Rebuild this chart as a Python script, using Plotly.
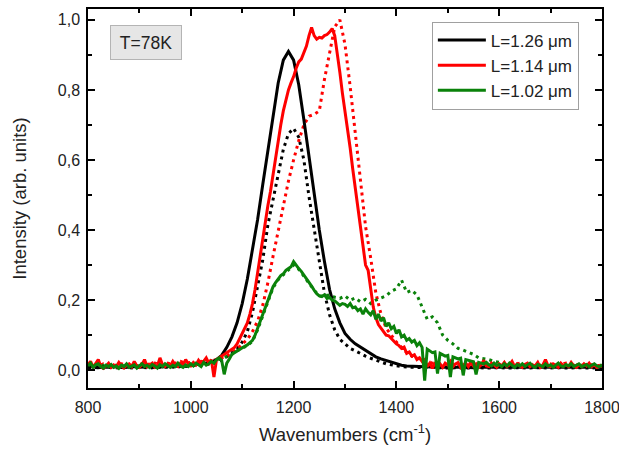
import plotly.graph_objects as go

# Spectral grids (cm^-1)
wn_fine = list(range(800, 1805, 5))     # 5 cm^-1 step
wn_coarse = list(range(800, 1810, 10))  # 10 cm^-1 step

# L = 1.26 um (black)
black_solid = [
    0.008, 0.010, 0.007, 0.009, 0.008, 0.010, 0.008, 0.007, 0.009, 0.010,
    0.008, 0.009, 0.010, 0.008, 0.009, 0.010, 0.011, 0.010, 0.012, 0.011,
    0.013, 0.014, 0.016, 0.018, 0.022, 0.030, 0.042, 0.065, 0.095, 0.135,
    0.190, 0.260, 0.340, 0.430, 0.530, 0.630, 0.730, 0.820, 0.885, 0.910,
    0.885, 0.815, 0.715, 0.605, 0.495, 0.400, 0.310, 0.230, 0.175, 0.135,
    0.105, 0.088, 0.075, 0.066, 0.056, 0.046, 0.038, 0.032, 0.027, 0.022,
    0.018, 0.014, 0.012, 0.011, 0.010, 0.009, 0.009, 0.008, 0.008, 0.009,
    0.008, 0.007, 0.009, 0.008, 0.008, 0.007, 0.009, 0.008, 0.007, 0.008,
    0.009, 0.008, 0.007, 0.008, 0.009, 0.008, 0.007, 0.008, 0.009, 0.008,
    0.007, 0.008, 0.009, 0.008, 0.007, 0.008, 0.009, 0.008, 0.007, 0.008, 0.008,
]
black_dotted = [
    0.006, 0.008, 0.007, 0.006, 0.008, 0.007, 0.006, 0.008, 0.007, 0.006,
    0.008, 0.007, 0.006, 0.008, 0.007, 0.008, 0.009, 0.008, 0.010, 0.011,
    0.012, 0.013, 0.014, 0.016, 0.018, 0.020, 0.028, 0.038, 0.050, 0.060,
    0.080, 0.110, 0.165, 0.245, 0.315, 0.415, 0.490, 0.565, 0.630, 0.675,
    0.690, 0.665, 0.600, 0.495, 0.400, 0.305, 0.220, 0.158, 0.115, 0.088,
    0.075, 0.062, 0.055, 0.047, 0.040, 0.034, 0.028, 0.022, 0.018, 0.015,
    0.012, 0.010, 0.009, 0.008, 0.008, 0.007, 0.008, 0.007, 0.006, 0.007,
    0.006, 0.007, 0.006, 0.007, 0.006, 0.007, 0.006, 0.007, 0.006, 0.007,
    0.006, 0.007, 0.006, 0.007, 0.006, 0.007, 0.006, 0.007, 0.006, 0.007,
    0.006, 0.007, 0.006, 0.007, 0.006, 0.007, 0.006, 0.007, 0.006, 0.007, 0.006,
]

# L = 1.14 um (red)
red_solid = [
    0.015, 0.025, 0.008, 0.018, 0.030, 0.010, 0.005, 0.012, 0.020, 0.008,
    0.015, 0.010, 0.022, 0.012, 0.006, 0.014, 0.018, 0.010, 0.025, 0.012,
    0.008, 0.016, 0.030, 0.010, 0.014, 0.020, 0.008, 0.012, 0.035, 0.015,
    0.010, 0.018, 0.012, 0.025, 0.014, 0.010, 0.020, 0.015, 0.030, 0.018,
    0.012, 0.022, 0.015, 0.028, 0.018, 0.025, 0.035, 0.020, 0.030,
    -0.020, 0.030, 0.035, 0.038, 0.045, 0.050, 0.055, 0.060, 0.065, 0.075, 0.090,
    0.105, 0.120, 0.135, 0.160, 0.190, 0.230, 0.280, 0.330, 0.380, 0.430,
    0.470, 0.510, 0.560, 0.610, 0.660, 0.700, 0.740, 0.775, 0.800, 0.820,
    0.838, 0.862, 0.880, 0.888, 0.905, 0.925, 0.955, 0.978, 0.955, 0.945,
    0.950, 0.948, 0.955, 0.958, 0.965, 0.975, 0.955, 0.905, 0.850, 0.790,
    0.740, 0.690, 0.635, 0.575, 0.515, 0.465, 0.410, 0.355, 0.300, 0.285,
    0.230, 0.180, 0.150, 0.130, 0.120, 0.110, 0.100, 0.098, 0.090, 0.085,
    0.075, 0.070, 0.062, 0.066, 0.048, 0.052, 0.040, 0.044, 0.030, 0.035,
    0.025, 0.030, 0.010, 0.020, 0.005, 0.022, 0.012, 0.018, 0.008, 0.020,
    0.015, 0.025, 0.010, 0.018, 0.022, 0.008, 0.015, 0.020, 0.010, 0.025,
    0.012, 0.018, 0.008, 0.015, 0.028, 0.012, 0.010, 0.020, 0.015, 0.008,
    0.018, 0.012, 0.022, 0.010, 0.015, 0.025, 0.010, 0.018, 0.012, 0.008,
    0.016, 0.020, 0.010, 0.015, 0.012, 0.022, 0.008, 0.015, 0.030, 0.012,
    0.010, 0.018, 0.014, 0.008, 0.020, 0.012, 0.015, 0.010, 0.022, 0.012,
    0.008, 0.015, 0.010, 0.018, 0.012, 0.020, 0.010, 0.015, 0.008, 0.012, 0.010,
]
red_dotted = [
    0.015, 0.020, 0.012, 0.018, 0.015, 0.010, 0.020, 0.015, 0.012, 0.018,
    0.020, 0.015, 0.018, 0.020, 0.015, 0.022, 0.018, 0.020, 0.025, 0.020,
    0.022, 0.018, 0.025, 0.022, 0.028, 0.030, 0.035, 0.040, 0.050, 0.060,
    0.075, 0.088, 0.110, 0.140, 0.185, 0.250, 0.325, 0.400, 0.470, 0.540,
    0.600, 0.655, 0.700, 0.725, 0.730, 0.740, 0.830, 0.910, 0.980, 1.000,
    0.930, 0.810, 0.670, 0.550, 0.410, 0.320, 0.220, 0.160, 0.120, 0.100,
    0.080, 0.065, 0.050, 0.040, 0.035, 0.030, 0.025, 0.020, 0.018, 0.020,
    0.015, 0.018, 0.012, 0.020, 0.015, 0.012, 0.018, 0.015, 0.020, 0.012,
    0.015, 0.018, 0.012, 0.016, 0.020, 0.012, 0.015, 0.018, 0.012, 0.015,
    0.018, 0.012, 0.015, 0.020, 0.012, 0.015, 0.018, 0.012, 0.015, 0.012, 0.015,
]

# L = 1.02 um (green)
green_solid = [
    0.012, 0.020, 0.008, 0.015, 0.018, 0.010, 0.006, 0.014, 0.010, 0.016,
    0.008, 0.012, 0.005, 0.014, 0.010, 0.018, 0.008, 0.012, 0.015, 0.006,
    0.012, 0.018, 0.010, 0.014, 0.008, 0.016, 0.012, 0.006, 0.015, 0.010,
    0.018, 0.012, 0.008, 0.014, 0.010, 0.020, 0.012, 0.008, 0.015, 0.010,
    0.018, 0.012, 0.020, 0.015, 0.010, 0.022, 0.014, 0.018, 0.025, 0.020,
    0.030, 0.035, 0.028, -0.012, 0.020, 0.032, 0.045, 0.050, 0.055, 0.060,
    0.065, 0.068, 0.072, 0.078, 0.085, 0.100, 0.120, 0.135, 0.160, 0.180,
    0.200, 0.220, 0.238, 0.250, 0.262, 0.270, 0.275, 0.285, 0.290, 0.295,
    0.310, 0.298, 0.290, 0.282, 0.272, 0.262, 0.250, 0.240, 0.228, 0.218,
    0.212, 0.210, 0.215, 0.205, 0.208, 0.200, 0.198, 0.190, 0.185, 0.190,
    0.188, 0.182, 0.190, 0.178, 0.180, 0.170, 0.175, 0.160, 0.175, 0.165,
    0.158, 0.170, 0.145, 0.160, 0.140, 0.150, 0.125, 0.135, 0.118, 0.125,
    0.105, 0.115, 0.095, 0.100, 0.085, 0.090, 0.080, 0.085, 0.070, 0.078,
    0.065, -0.030, 0.060, 0.055, 0.050, 0.052, -0.010, 0.048, 0.045, 0.040,
    0.042, -0.020, 0.038, 0.035, 0.032, 0.034, -0.015, 0.030, 0.028, 0.026,
    0.024, -0.012, 0.022, 0.020, 0.018, 0.022, 0.015, 0.012, 0.020, 0.014,
    0.016, 0.010, 0.018, 0.012, 0.020, 0.014, 0.008, 0.016, 0.012, 0.018,
    0.010, 0.015, 0.020, 0.012, 0.008, 0.016, 0.014, 0.010, 0.018, 0.012,
    0.015, 0.008, 0.014, 0.020, 0.012, 0.010, 0.016, 0.012, 0.018, 0.010,
    0.014, 0.018, 0.010, 0.012, 0.016, 0.010, 0.014, 0.018, 0.012, 0.010, 0.014,
]
green_dotted = [
    0.012, 0.015, 0.010, 0.014, 0.012, 0.010, 0.015, 0.012, 0.010, 0.014,
    0.012, 0.015, 0.012, 0.010, 0.014, 0.012, 0.015, 0.012, 0.014, 0.012,
    0.015, 0.016, 0.018, 0.020, 0.022, 0.028, 0.032, 0.038, 0.045, 0.055,
    0.063, 0.070, 0.082, 0.115, 0.155, 0.195, 0.235, 0.258, 0.272, 0.285,
    0.300, 0.288, 0.268, 0.248, 0.228, 0.212, 0.212, 0.215, 0.208, 0.205,
    0.212, 0.200, 0.206, 0.195, 0.202, 0.190, 0.200, 0.206, 0.212, 0.225,
    0.232, 0.257, 0.222, 0.228, 0.215, 0.180, 0.145, 0.152, 0.135, 0.100,
    0.085, 0.075, 0.062, 0.057, 0.050, 0.045, 0.035, 0.033, 0.030, 0.025,
    0.022, 0.019, 0.017, 0.015, 0.016, 0.014, 0.015, 0.013, 0.015, 0.014,
    0.013, 0.015, 0.014, 0.012, 0.015, 0.013, 0.014, 0.012, 0.015, 0.013, 0.014,
]

legend_labels = ["L=1.26 μm", "L=1.14 μm", "L=1.02 μm"]
colors = ["#000000", "#ff0000", "#0a820a"]

FONT = "Liberation Sans, Arial, sans-serif"
TEXT_COLOR = "#222222"
DOT = "3px,4px"

fig = go.Figure()

# dotted spectra (no legend entries)
for x, y, c in [(wn_coarse, black_dotted, colors[0]),
                (wn_coarse, red_dotted, colors[1]),
                (wn_coarse, green_dotted, colors[2])]:
    fig.add_trace(go.Scatter(x=x, y=y, mode="lines", showlegend=False,
                             line=dict(color=c, width=3, dash=DOT)))

# solid spectra
for x, y, c, name in [(wn_coarse, black_solid, colors[0], legend_labels[0]),
                      (wn_fine, red_solid, colors[1], legend_labels[1]),
                      (wn_fine, green_solid, colors[2], legend_labels[2])]:
    fig.add_trace(go.Scatter(x=x, y=y, mode="lines", name=name,
                             line=dict(color=c, width=3)))

axis_common = dict(
    showline=True, linecolor="black", linewidth=1.5, mirror="ticks",
    ticks="inside", ticklen=7, tickwidth=1.5, tickcolor="black",
    showgrid=False, zeroline=False, automargin=False,
    ticklabeloverflow="allow",
    tickfont=dict(size=16, color=TEXT_COLOR, family=FONT),
)

fig.update_xaxes(
    range=[800, 1800], tick0=800, dtick=200, ticklabelstandoff=4,
    minor=dict(dtick=100, ticks="inside", ticklen=4, tickwidth=1.5, tickcolor="black"),
    title=dict(text="Wavenumbers (cm<sup>-1</sup>)",
               font=dict(size=18.5, color=TEXT_COLOR, family=FONT), standoff=13),
    **axis_common,
)
fig.update_yaxes(
    range=[-0.051, 1.031], tick0=0, dtick=0.2, tickformat=".1f", ticklabelstandoff=3,
    minor=dict(dtick=0.1, ticks="inside", ticklen=4, tickwidth=1.5, tickcolor="black"),
    title=dict(text="Intensity (arb. units)",
               font=dict(size=18.5, color=TEXT_COLOR, family=FONT), standoff=26),
    **axis_common,
)

fig.add_annotation(
    xref="paper", yref="paper", x=0.113, y=0.912, xanchor="center", yanchor="middle",
    text="T=78K", showarrow=False, font=dict(size=17.5, color=TEXT_COLOR, family=FONT),
    bgcolor="#e6e6e6", bordercolor="#b4b4b4", borderwidth=1, width=68, height=31,
)

fig.update_layout(
    width=619, height=450,
    margin=dict(l=88, r=17, t=9, b=62),
    paper_bgcolor="white", plot_bgcolor="white",
    separators=",.",
    font=dict(family=FONT),
    legend=dict(x=0.669, y=0.967, xanchor="left", yanchor="top",
                bgcolor="white", bordercolor="#a0a0a0", borderwidth=1,
                font=dict(size=17, color=TEXT_COLOR, family=FONT),
                itemwidth=48, tracegroupgap=0),
)

fig.write_html("out.html")
